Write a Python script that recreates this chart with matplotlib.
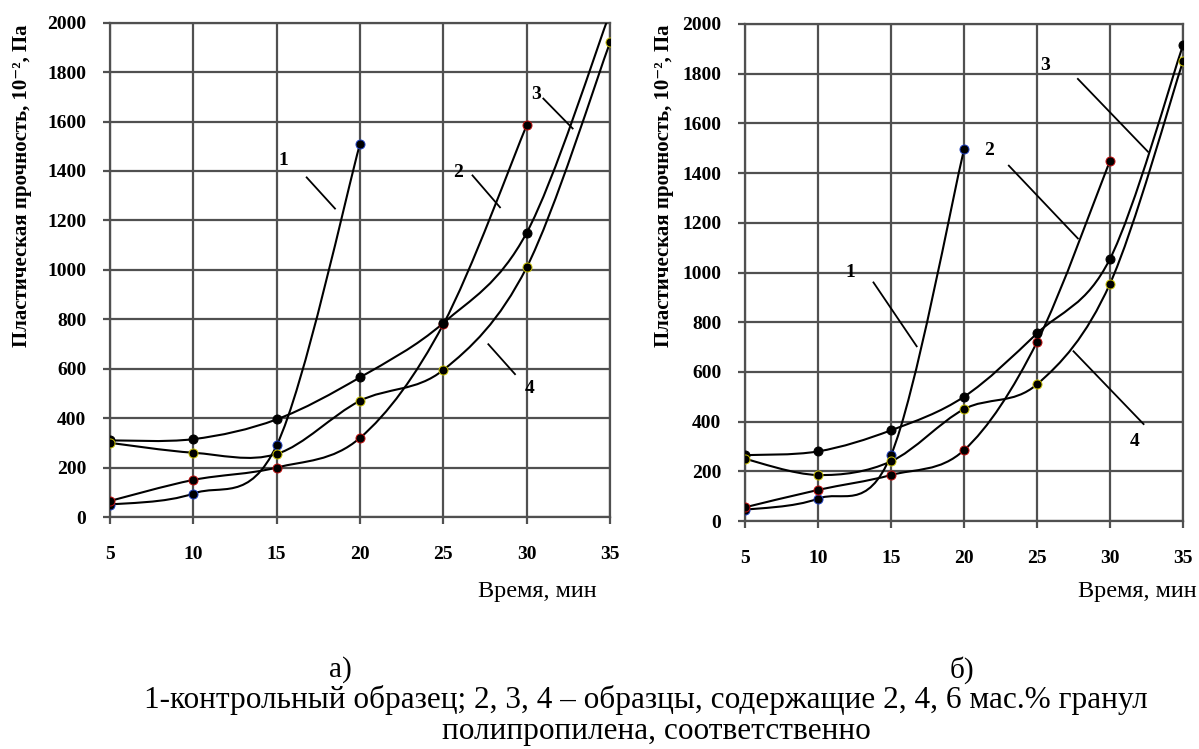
import matplotlib
matplotlib.use('Agg')
import matplotlib.pyplot as plt
from matplotlib.path import Path
from matplotlib.patches import PathPatch
import numpy as np

# ---------------- data ----------------
time_min = [5, 10, 15, 20, 25, 30, 35]
x_ticks = [5, 10, 15, 20, 25, 30, 35]
y_ticks = [0, 200, 400, 600, 800, 1000, 1200, 1400, 1600, 1800, 2000]

# panel а)
a_curve1 = [50, 95, 290, 1510]
a_curve2 = [65, 150, 200, 320, 780, 1585]
a_curve3 = [310, 315, 395, 565, 785, 1150, 2040]
a_curve4 = [300, 260, 255, 470, 595, 1010, 1920]

# panel б)
b_curve1 = [45, 90, 265, 1495]
b_curve2 = [55, 125, 185, 285, 720, 1450]
b_curve3 = [265, 280, 365, 500, 755, 1055, 1915]
b_curve4 = [250, 185, 240, 450, 550, 955, 1850]

# curve number labels: (text x, text y, leader x0, y0, x1, y1)
a_labels = {"1": (15.4, 1442, 16.8, 1374, 18.5, 1248),
            "2": (25.9, 1394, 26.75, 1382, 28.4, 1253),
            "3": (30.55, 1709, 31.0, 1693, 32.76, 1572),
            "4": (30.2, 521, 27.7, 699, 29.3, 578)}
b_labels = {"1": (12.24, 1000, 13.8, 960, 16.76, 703),
            "2": (21.7, 1490, 23.07, 1430, 27.8, 1137),
            "3": (25.56, 1831, 27.8, 1779, 32.6, 1486),
            "4": (31.7, 321, 27.5, 683, 32.3, 390)}

marker_edges = ['#2040c0', '#c01010', '#000000', '#c8c000']

ylabel_text = 'Пластическая прочность, 10⁻², Па'
xlabel_text = 'Время, мин'
caption1 = '1-контрольный образец; 2, 3, 4 – образцы, содержащие 2, 4, 6 мас.% гранул'
caption2 = 'полипропилена, соответственно'

SERIF = ['Liberation Serif', 'DejaVu Serif']
GRID = '#505050'


def smooth_path(x, y):
    pts = np.column_stack([x, y]).astype(float)
    n = len(pts)
    verts = [pts[0]]
    codes = [Path.MOVETO]
    for i in range(n - 1):
        p0 = pts[i - 1] if i > 0 else pts[i]
        p1 = pts[i]
        p2 = pts[i + 1]
        p3 = pts[i + 2] if i + 2 < n else pts[i + 1]
        c1 = p1 + (p2 - p0) / 6.0
        c2 = p2 - (p3 - p1) / 6.0
        verts += [c1, c2, p2]
        codes += [Path.CURVE4] * 3
    return Path(verts, codes)


fig = plt.figure(figsize=(11.99, 7.49), dpi=100)

W, H = 1199.0, 749.0
ax_a = fig.add_axes([110 / W, 1 - 517 / H, 500 / W, (517 - 22.7) / H])
ax_b = fig.add_axes([745 / W, 1 - 521 / H, 438 / W, (521 - 24) / H])


def setup(ax, curves, labels):
    ax.set_xlim(5, 35)
    ax.set_ylim(0, 2000)
    ax.set_xticks(x_ticks)
    ax.set_yticks(y_ticks)
    ax.grid(True, color=GRID, linewidth=1.6)
    ax.set_axisbelow(True)
    for s in ax.spines.values():
        s.set_color(GRID)
        s.set_linewidth(1.6)
    ax.tick_params(direction='out', length=5, width=1.6, color=GRID)
    ax.tick_params(axis='x', pad=16)
    ax.tick_params(axis='y', pad=12)
    for lab in ax.get_xticklabels() + ax.get_yticklabels():
        lab.set_family(SERIF)
        lab.set_fontweight('bold')
        lab.set_fontsize(14)
    for ys, ec in zip(curves, marker_edges):
        xs = time_min[:len(ys)]
        patch = PathPatch(smooth_path(xs, ys), facecolor='none',
                          edgecolor='black', linewidth=1.5, zorder=3)
        ax.add_patch(patch)
        ax.plot(xs, ys, linestyle='none', marker='o', markersize=6.5,
                markerfacecolor='black', markeredgecolor=ec,
                markeredgewidth=0.7, zorder=4)
    for txt, (tx, ty, x0, y0, x1, y1) in labels.items():
        ax.text(tx, ty, txt, family=SERIF, fontweight='bold', fontsize=14,
                ha='center', va='center', zorder=5)
        ax.plot([x0, x1], [y0, y1], color='black', linewidth=1.3, zorder=5)


setup(ax_a, [a_curve1, a_curve2, a_curve3, a_curve4], a_labels)
setup(ax_b, [b_curve1, b_curve2, b_curve3, b_curve4], b_labels)

# y labels
fig.text(22 / W, 1 - 186 / H, ylabel_text, rotation=90, ha='center', va='center',
         family=SERIF, fontweight='bold', fontsize=15)
fig.text(664 / W, 1 - 186 / H, ylabel_text, rotation=90, ha='center', va='center',
         family=SERIF, fontweight='bold', fontsize=15)

# x labels
fig.text(597 / W, 1 - 592 / H, xlabel_text, ha='right', va='center',
         family=SERIF, fontsize=17.5)
fig.text(1197 / W, 1 - 592 / H, xlabel_text, ha='right', va='center',
         family=SERIF, fontsize=17.5)

# captions
fig.text(340 / W, 1 - 670 / H, 'а)', ha='center', va='center', family=SERIF, fontsize=21)
fig.text(962 / W, 1 - 670 / H, 'б)', ha='center', va='center', family=SERIF, fontsize=21)
fig.text(646 / W, 1 - 700 / H, caption1, ha='center', va='center', family=SERIF, fontsize=22.5)
fig.text(656 / W, 1 - 731 / H, caption2, ha='center', va='center', family=SERIF, fontsize=22.5)

fig.savefig('out.png', dpi=100)
